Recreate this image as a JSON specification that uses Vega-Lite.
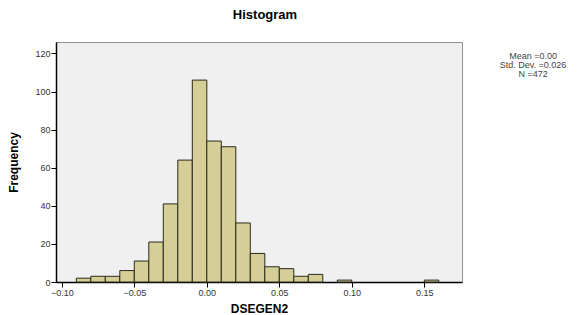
{
  "$schema": "https://vega.github.io/schema/vega-lite/v6.json",
  "width": 406,
  "height": 240,
  "autosize": "none",
  "padding": {"left": 56, "top": 42, "right": 116, "bottom": 33},
  "background": "white",
  "title": {"text": "Histogram", "fontSize": 13, "font": "Liberation Sans", "fontWeight": "bold", "color": "#000", "offset": 20, "anchor": "middle", "dx": 6},
  "config": {
    "view": {"fill": "#f0f0f0", "stroke": "#909090", "strokeWidth": 1},
    "axis": {"labelFont": "Liberation Sans", "labelFontSize": 9, "labelColor": "#333", "titleFont": "Liberation Sans", "titleFontSize": 12, "titleFontWeight": "bold", "titleColor": "#000", "domainColor": "#000", "domainWidth": 1.5, "tickColor": "#000", "tickSize": 5, "grid": false}
  },
  "layer": [
    {
      "data": {"values": [
        {"lo": -0.09, "hi": -0.08, "count": 2},
        {"lo": -0.08, "hi": -0.07, "count": 3},
        {"lo": -0.07, "hi": -0.06, "count": 3},
        {"lo": -0.06, "hi": -0.05, "count": 6},
        {"lo": -0.05, "hi": -0.04, "count": 11},
        {"lo": -0.04, "hi": -0.03, "count": 21},
        {"lo": -0.03, "hi": -0.02, "count": 41},
        {"lo": -0.02, "hi": -0.01, "count": 64},
        {"lo": -0.01, "hi": 0.0, "count": 106},
        {"lo": 0.0, "hi": 0.01, "count": 74},
        {"lo": 0.01, "hi": 0.02, "count": 71},
        {"lo": 0.02, "hi": 0.03, "count": 31},
        {"lo": 0.03, "hi": 0.04, "count": 15},
        {"lo": 0.04, "hi": 0.05, "count": 8},
        {"lo": 0.05, "hi": 0.06, "count": 7},
        {"lo": 0.06, "hi": 0.07, "count": 3},
        {"lo": 0.07, "hi": 0.08, "count": 4},
        {"lo": 0.09, "hi": 0.1, "count": 1},
        {"lo": 0.15, "hi": 0.16, "count": 1}
      ]},
      "mark": {"type": "rect", "fill": "#d5cf97", "stroke": "#2a2a1a", "strokeWidth": 1},
      "encoding": {
        "x": {"field": "lo", "type": "quantitative", "scale": {"domain": [-0.104, 0.176], "nice": false, "zero": false},
              "axis": {"title": "DSEGEN2", "values": [-0.1, -0.05, 0, 0.05, 0.1, 0.15], "format": ".2f", "titlePadding": 6, "labelPadding": 1, "labelOverlap": false}},
        "x2": {"field": "hi"},
        "y": {"field": "count", "type": "quantitative", "scale": {"domain": [0, 126], "nice": false},
              "axis": {"title": "Frequency", "values": [0, 20, 40, 60, 80, 100, 120], "titlePadding": 14, "labelPadding": 1, "labelOverlap": false}},
        "y2": {"datum": 0}
      }
    },
    {
      "data": {"values": [
        {"px": 0.225, "py": 118.6, "label": "Mean =0.00"},
        {"px": 0.225, "py": 114.0, "label": "Std. Dev. =0.026"},
        {"px": 0.225, "py": 109.4, "label": "N =472"}
      ]},
      "mark": {"type": "text", "clip": false, "font": "Liberation Sans", "fontSize": 9, "color": "#444", "align": "center", "baseline": "middle"},
      "encoding": {
        "x": {"field": "px", "type": "quantitative",
              "axis": {"title": "DSEGEN2", "values": [-0.1, -0.05, 0, 0.05, 0.1, 0.15], "format": ".2f", "titlePadding": 6, "labelPadding": 1, "labelOverlap": false}},
        "y": {"field": "py", "type": "quantitative",
              "axis": {"title": "Frequency", "values": [0, 20, 40, 60, 80, 100, 120], "titlePadding": 14, "labelPadding": 1, "labelOverlap": false}},
        "text": {"field": "label"}
      }
    }
  ]
}
